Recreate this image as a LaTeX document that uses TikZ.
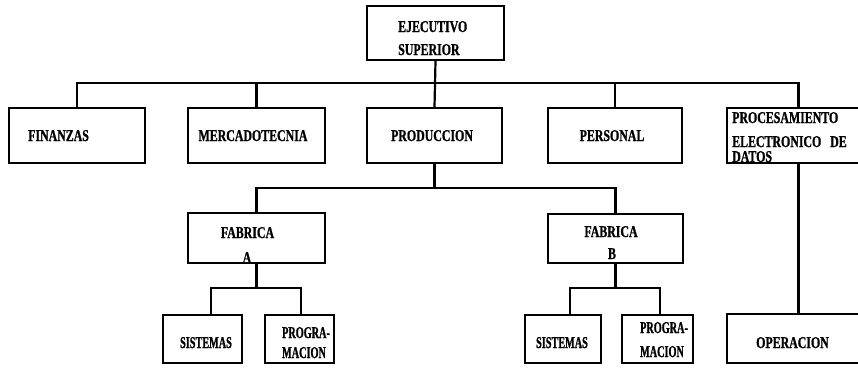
\documentclass[tikz,border=0pt]{standalone}
\usepackage{fontspec}
\newfontfamily\boxfont[FakeStretch=0.72, BoldFeatures={FakeBold=1}]{Liberation Serif}
\newfontfamily\narrowfont[FakeStretch=0.62, BoldFeatures={FakeBold=1}]{Liberation Serif}
\begin{document}
\begin{tikzpicture}[x=1pt,y=-1pt,
  box/.style={draw, line width=2.2pt, rectangle, inner sep=0pt},
  txt/.style={inner sep=0pt, font=\boxfont\bfseries\fontsize{16.5}{20}\selectfont},
  ntxt/.style={inner sep=0pt, font=\narrowfont\bfseries\fontsize{16.5}{20}\selectfont},
  conn/.style={line width=2.2pt}]
\clip (0,0) rectangle (858,370);
% boxes
\node[box, minimum width=137pt, minimum height=54pt] (ejec) at (435.5,33) {};
\node[box, minimum width=136pt, minimum height=55pt] (fin) at (77,135.5) {};
\node[box, minimum width=137pt, minimum height=55pt] (mer) at (256.5,135.5) {};
\node[box, minimum width=135pt, minimum height=55pt] (prod) at (434.5,135.5) {};
\node[box, minimum width=134pt, minimum height=55pt] (pers) at (615,135.5) {};
\node[box, minimum width=143pt, minimum height=55pt] (proc) at (798.5,135.5) {};
\node[box, minimum width=137pt, minimum height=50pt] (fabA) at (256.5,238) {};
\node[box, minimum width=135pt, minimum height=49pt] (fabB) at (615.5,238.5) {};
\node[box, minimum width=79pt, minimum height=48pt] (sisA) at (202.5,339) {};
\node[box, minimum width=69pt, minimum height=48pt] (progA) at (299.5,339) {};
\node[box, minimum width=76pt, minimum height=48pt] (sisB) at (563,339) {};
\node[box, minimum width=71pt, minimum height=48pt] (progB) at (657.5,339) {};
\node[box, minimum width=143pt, minimum height=49pt] (oper) at (798.5,338.5) {};
% texts
\node[txt, anchor=base west] (ejecT1) at (398,32) {EJECUTIVO};
\node[txt, anchor=base west] (ejecT2) at (398,55) {SUPERIOR};
\node[txt, anchor=base west] (finT) at (28,141) {FINANZAS};
\node[txt, anchor=base] (merT) at (253,141) {MERCADOTECNIA};
\node[txt, anchor=base] (prodT) at (432,141) {PRODUCCION};
\node[txt, anchor=base] (persT) at (612,141) {PERSONAL};
\node[txt, anchor=base west] (procT1) at (732,123) {PROCESAMIENTO};
\node[txt, anchor=base west] (procT2) at (732,147) {ELECTRONICO\ \ \ DE};
\node[txt, anchor=base west] (procT3) at (732,162) {DATOS};
\node[txt, anchor=base] (fabAT1) at (247.5,238) {FABRICA};
\node[txt, anchor=base] (fabAT2) at (247,263) {A};
\node[txt, anchor=base] (fabBT1) at (611,237) {FABRICA};
\node[txt, anchor=base] (fabBT2) at (612,259) {B};
\node[ntxt, anchor=base] (sisAT) at (206,348) {SISTEMAS};
\node[ntxt, anchor=base] (progAT1) at (306,338) {PROGRA-};
\node[ntxt, anchor=base] (progAT2) at (304,358) {MACION};
\node[ntxt, anchor=base] (sisBT) at (562,348) {SISTEMAS};
\node[ntxt, anchor=base] (progBT1) at (664,333) {PROGRA-};
\node[ntxt, anchor=base] (progBT2) at (662,357) {MACION};
\node[txt, anchor=base] (operT) at (792.5,348) {OPERACION};
% connectors
\coordinate (bus) at (435,83);
\coordinate (b2) at (434.5,188);
\coordinate (sa) at (211,288);
\coordinate (pa) at (301,288);
\coordinate (sb) at (570,288);
\coordinate (pb) at (660,288);
\draw[conn] (ejec.south) -- (prod.north);
\draw[conn] (fin.north) -- (fin.north |- bus) -- (proc.north |- bus) -- (proc.north);
\draw[conn] (mer.north) -- (mer.north |- bus);
\draw[conn] (pers.north) -- (pers.north |- bus);
\draw[conn] (prod.south) -- (b2);
\draw[conn] (fabA.north) |- (b2) -| (fabB.north);
\draw[conn] (fabA.south) -- (fabA.south |- sa);
\draw[conn] (sa |- sisA.north) -- (sa) -- (pa) -- (pa |- progA.north);
\draw[conn] (fabB.south) -- (fabB.south |- sb);
\draw[conn] (sb |- sisB.north) -- (sb) -- (pb) -- (pb |- progB.north);
\draw[conn] (proc.south) -- (oper.north);
\end{tikzpicture}
\end{document}
